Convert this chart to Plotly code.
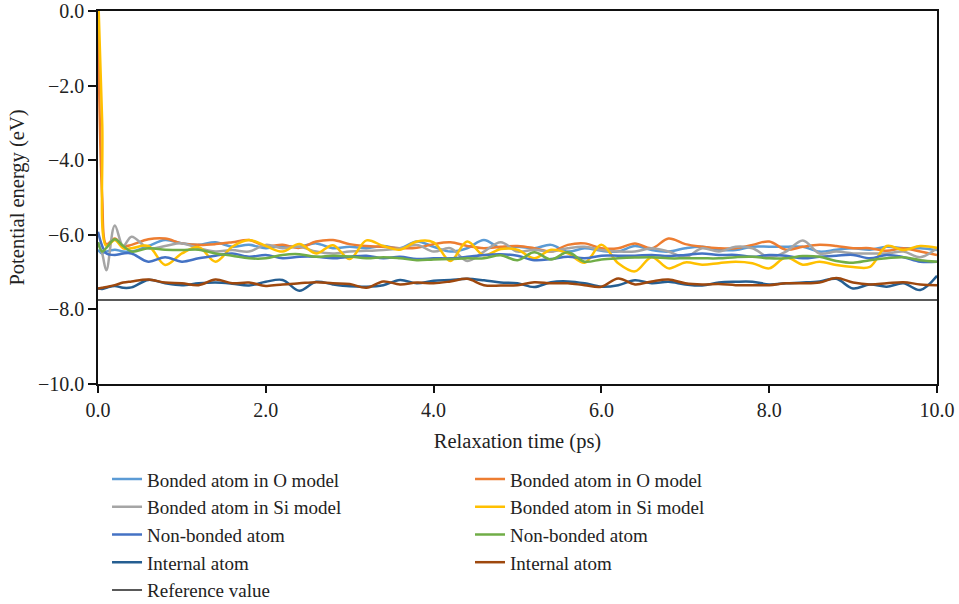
import plotly.graph_objects as go

time_ps = [0.0, 0.05, 0.1, 0.2, 0.3, 0.4, 0.6, 0.8, 1.0, 1.2, 1.4, 1.6, 1.8, 2.0,
           2.2, 2.4, 2.6, 2.8, 3.0, 3.2, 3.4, 3.6, 3.8, 4.0, 4.2, 4.4, 4.6, 4.8,
           5.0, 5.2, 5.4, 5.6, 5.8, 6.0, 6.2, 6.4, 6.6, 6.8, 7.0, 7.2, 7.4, 7.6,
           7.8, 8.0, 8.2, 8.4, 8.6, 8.8, 9.0, 9.2, 9.4, 9.6, 9.8, 10.0]

# model 1 (left legend column)
bonded_O_1 = [-6.40, -6.50, -6.45, -6.40, -6.45, -6.45, -6.30, -6.14, -6.23, -6.27, -6.20, -6.32, -6.27, -6.36,
              -6.30, -6.32, -6.23, -6.36, -6.32, -6.36, -6.30, -6.36, -6.18, -6.32, -6.45, -6.36, -6.14, -6.36,
              -6.32, -6.36, -6.27, -6.45, -6.36, -6.43, -6.45, -6.30, -6.41, -6.45, -6.36, -6.32, -6.40, -6.41,
              -6.32, -6.32, -6.32, -6.32, -6.45, -6.40, -6.36, -6.40, -6.32, -6.36, -6.36, -6.41]
bonded_Si_1 = [-6.20, -6.50, -6.95, -5.75, -6.30, -6.05, -6.36, -6.30, -6.23, -6.36, -6.45, -6.41, -6.45, -6.27,
               -6.36, -6.32, -6.45, -6.50, -6.45, -6.43, -6.41, -6.36, -6.27, -6.45, -6.36, -6.70, -6.45, -6.20,
               -6.45, -6.40, -6.45, -6.36, -6.32, -6.41, -6.45, -6.45, -6.36, -6.45, -6.60, -6.36, -6.45, -6.32,
               -6.36, -6.60, -6.45, -6.15, -6.50, -6.45, -6.50, -6.50, -6.50, -6.45, -6.60, -6.36]
nonbonded_1 = [-5.92, -6.30, -6.50, -6.54, -6.50, -6.50, -6.72, -6.60, -6.72, -6.63, -6.56, -6.50, -6.59, -6.54,
               -6.63, -6.59, -6.59, -6.63, -6.59, -6.56, -6.63, -6.59, -6.65, -6.63, -6.63, -6.59, -6.54, -6.52,
               -6.56, -6.68, -6.65, -6.59, -6.63, -6.56, -6.56, -6.56, -6.54, -6.57, -6.54, -6.50, -6.54, -6.54,
               -6.59, -6.54, -6.56, -6.63, -6.59, -6.56, -6.54, -6.63, -6.54, -6.60, -6.72, -6.72]
internal_1 = [-7.44, -7.45, -7.42, -7.37, -7.42, -7.41, -7.21, -7.30, -7.35, -7.30, -7.28, -7.31, -7.36, -7.26,
              -7.21, -7.50, -7.26, -7.33, -7.38, -7.39, -7.35, -7.21, -7.30, -7.23, -7.21, -7.18, -7.22, -7.28,
              -7.30, -7.40, -7.27, -7.25, -7.30, -7.39, -7.35, -7.22, -7.30, -7.26, -7.33, -7.36, -7.28, -7.26,
              -7.26, -7.33, -7.30, -7.28, -7.25, -7.18, -7.44, -7.33, -7.39, -7.30, -7.48, -7.10]

# model 2 (right legend column)
bonded_O_2 = [0.00, -5.00, -6.25, -6.10, -6.30, -6.27, -6.12, -6.10, -6.23, -6.27, -6.25, -6.20, -6.14, -6.30,
              -6.27, -6.35, -6.18, -6.14, -6.25, -6.30, -6.32, -6.36, -6.35, -6.25, -6.20, -6.30, -6.36, -6.32,
              -6.30, -6.36, -6.45, -6.27, -6.23, -6.36, -6.36, -6.23, -6.36, -6.10, -6.25, -6.32, -6.36, -6.36,
              -6.27, -6.18, -6.40, -6.32, -6.27, -6.30, -6.36, -6.36, -6.43, -6.36, -6.45, -6.54]
bonded_Si_2 = [0.60, -3.00, -6.30, -6.14, -6.36, -6.36, -6.30, -6.81, -6.50, -6.33, -6.72, -6.32, -6.14, -6.30,
               -6.45, -6.25, -6.50, -6.28, -6.65, -6.15, -6.30, -6.40, -6.18, -6.20, -6.70, -6.18, -6.55, -6.38,
               -6.40, -6.63, -6.40, -6.50, -6.75, -6.27, -6.76, -6.98, -6.60, -6.90, -6.74, -6.80, -6.76, -6.72,
               -6.76, -6.90, -6.60, -6.80, -6.72, -6.81, -6.86, -6.86, -6.30, -6.41, -6.30, -6.35]
nonbonded_2 = [-6.20, -6.45, -6.35, -6.12, -6.30, -6.45, -6.36, -6.40, -6.41, -6.40, -6.50, -6.56, -6.63, -6.63,
               -6.54, -6.52, -6.59, -6.56, -6.58, -6.63, -6.60, -6.63, -6.68, -6.66, -6.65, -6.63, -6.63, -6.55,
               -6.68, -6.47, -6.66, -6.47, -6.72, -6.66, -6.63, -6.61, -6.60, -6.63, -6.63, -6.63, -6.63, -6.60,
               -6.59, -6.63, -6.63, -6.57, -6.59, -6.70, -6.75, -6.68, -6.63, -6.60, -6.68, -6.72]
internal_2 = [-7.44, -7.42, -7.40, -7.35, -7.28, -7.25, -7.20, -7.28, -7.30, -7.35, -7.20, -7.30, -7.28, -7.37,
              -7.33, -7.30, -7.27, -7.30, -7.32, -7.42, -7.25, -7.33, -7.28, -7.30, -7.25, -7.18, -7.35, -7.36,
              -7.35, -7.27, -7.30, -7.30, -7.35, -7.39, -7.17, -7.33, -7.25, -7.20, -7.30, -7.33, -7.32, -7.35,
              -7.35, -7.35, -7.30, -7.30, -7.28, -7.16, -7.28, -7.33, -7.30, -7.27, -7.33, -7.35]

reference_time = [0.0, 10.0]
reference_value = [-7.75, -7.75]

x_ticks = [0.0, 2.0, 4.0, 6.0, 8.0, 10.0]
y_ticks = [0.0, -2.0, -4.0, -6.0, -8.0, -10.0]

series = [
    ("Bonded atom in O model", bonded_O_1, "#5B9BD5"),
    ("Bonded atom in O model", bonded_O_2, "#ED7D31"),
    ("Bonded atom in Si model", bonded_Si_1, "#A5A5A5"),
    ("Bonded atom in Si model", bonded_Si_2, "#FFC000"),
    ("Non-bonded atom", nonbonded_1, "#4472C4"),
    ("Non-bonded atom", nonbonded_2, "#70AD47"),
    ("Internal atom", internal_1, "#255E91"),
    ("Internal atom", internal_2, "#9E480E"),
]

FONT = "Liberation Serif"
fig = go.Figure()
for name, vals, col in series:
    fig.add_trace(go.Scatter(x=time_ps, y=vals, mode="lines", name=name,
                             line=dict(color=col, width=2.5, shape="spline", smoothing=1.0)))
fig.add_trace(go.Scatter(x=reference_time, y=reference_value, mode="lines", name="Reference value",
                         line=dict(color="#595959", width=2)))

fig.update_layout(
    width=959, height=604,
    margin=dict(l=98, r=22, t=11, b=220),
    paper_bgcolor="white", plot_bgcolor="white",
    font=dict(family=FONT, size=20, color="#222"),
    showlegend=True,
    legend=dict(orientation="h", xref="container", x=0.1116, xanchor="left",
                yref="container", y=0.238, yanchor="top",
                entrywidth=318, entrywidthmode="pixels",
                font=dict(family=FONT, size=19, color="#222"),
                bgcolor="rgba(0,0,0,0)", traceorder="normal"),
    xaxis=dict(range=[0, 10], tickvals=x_ticks, tickformat=".1f", showgrid=False, zeroline=False,
               automargin=False,
               showline=True, mirror=True, linecolor="#111", linewidth=1.5,
               ticks="outside", ticklen=7, tickwidth=1.5, tickcolor="#111",
               tickfont=dict(family=FONT, size=20),
               title=dict(text="Relaxation time (ps)", font=dict(family=FONT, size=20.5), standoff=14)),
    yaxis=dict(range=[-10, 0], tickvals=y_ticks, tickformat=".1f", showgrid=False, zeroline=False,
               automargin=False,
               showline=True, mirror=True, linecolor="#111", linewidth=1.5,
               ticks="outside", ticklen=8, tickwidth=1.5, tickcolor="#111",
               tickfont=dict(family=FONT, size=20),
               title=dict(text="Potential energy (eV)", font=dict(family=FONT, size=20.5), standoff=8)),
)

fig.write_html("out.html", config={"displayModeBar": False},
               post_script="document.body.style.margin='0';")
